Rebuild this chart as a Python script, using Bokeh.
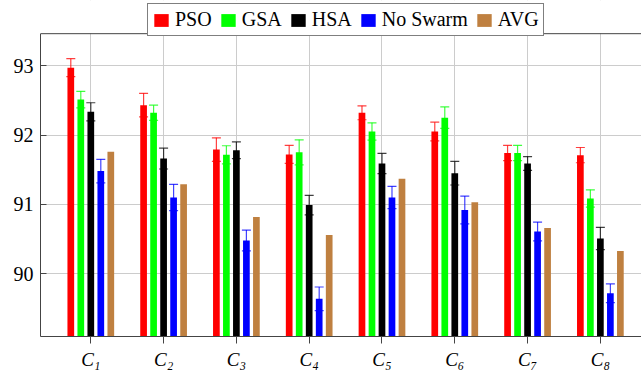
from bokeh.plotting import figure
from bokeh.models import (ColumnDataSource, Whisker, TeeHead, Legend, LegendItem,
                          FixedTicker, Range1d, Span, BoxAnnotation)
from bokeh.embed import file_html
from bokeh.resources import INLINE

# --- data -------------------------------------------------------------------
categories = ["C\u2081", "C\u2082", "C\u2083", "C\u2084",
              "C\u2085", "C\u2086", "C\u2087", "C\u2088"]
series_names = ["PSO", "GSA", "HSA", "No Swarm", "AVG"]
series_colors = ["#ff0000", "#00ff00", "#000000", "#0000ff", "#bf8040"]

pso = [92.97, 92.43, 91.79, 91.72, 92.32, 92.05, 91.74, 91.71]
pso_err = [0.13, 0.17, 0.17, 0.13, 0.10, 0.135, 0.11, 0.11]
gsa = [92.51, 92.32, 91.715, 91.75, 92.05, 92.25, 91.74, 91.085]
gsa_err = [0.12, 0.11, 0.13, 0.18, 0.125, 0.155, 0.11, 0.125]
hsa = [92.335, 91.66, 91.78, 90.99, 91.59, 91.45, 91.59, 90.51]
hsa_err = [0.13, 0.15, 0.12, 0.14, 0.145, 0.17, 0.10, 0.16]
no_swarm = [91.48, 91.10, 90.48, 89.64, 91.10, 90.92, 90.61, 89.72]
no_swarm_err = [0.17, 0.19, 0.15, 0.17, 0.16, 0.20, 0.135, 0.135]
avg = [91.76, 91.29, 90.82, 90.56, 91.37, 91.03, 90.66, 90.33]

y_ticks = [90, 91, 92, 93]

series_values = [pso, gsa, hsa, no_swarm, avg]
series_errors = [pso_err, gsa_err, hsa_err, no_swarm_err, None]

# --- layout -------------------------------------------------------------------
positions = list(range(1, len(categories) + 1))
bar_width = 0.092
bar_step = 0.1374
baseline = 85.0
serif = "Liberation Serif"

# axis box spans y_lo..y_hi; the canvas keeps a strip above it for the legend
y_lo, y_hi = 89.097, 93.46
y_canvas_top = 93.938
tick_len = 0.1

p = figure(width=641, height=373, output_backend="svg", toolbar_location=None,
           x_range=Range1d(0.309, 8.565), y_range=Range1d(y_lo, y_canvas_top),
           min_border_left=40, min_border_right=0,
           min_border_top=0, min_border_bottom=37)
p.outline_line_color = None
p.background_fill_color = "white"
p.border_fill_color = "white"

axis_color = "#444444"

# bottom axis: category labels, ticks pointing outward
p.xaxis.ticker = FixedTicker(ticks=positions)
p.xaxis.major_label_overrides = {pos: lab for pos, lab in zip(positions, categories)}
p.xaxis.major_label_text_font = serif
p.xaxis.major_label_text_font_style = "italic"
p.xaxis.major_label_text_font_size = "19px"
p.xaxis.major_label_text_color = "black"
p.xaxis.major_label_standoff = 5
p.xaxis.major_tick_in = 0
p.xaxis.major_tick_out = 7
p.xaxis.minor_tick_line_color = None
p.xaxis.axis_line_color = axis_color
p.xaxis.major_tick_line_color = axis_color

# left axis: ticks pointing inward, line stops at the top of the axis box
p.yaxis.ticker = FixedTicker(ticks=y_ticks)
p.yaxis.bounds = (y_lo, y_hi)
p.yaxis.major_label_text_font = serif
p.yaxis.major_label_text_font_size = "20px"
p.yaxis.major_label_text_color = "black"
p.yaxis.major_label_standoff = 7
p.yaxis.major_tick_in = 6
p.yaxis.major_tick_out = 0
p.yaxis.minor_tick_line_color = None
p.yaxis.axis_line_color = axis_color
p.yaxis.major_tick_line_color = axis_color

p.xgrid.ticker = FixedTicker(ticks=positions)
p.ygrid.ticker = FixedTicker(ticks=y_ticks)
p.xgrid.grid_line_color = "#cccccc"
p.ygrid.grid_line_color = "#cccccc"

# blank strip above the axis box, then its top edge with outward ticks
p.add_layout(BoxAnnotation(bottom=y_hi, fill_color="white", fill_alpha=1,
                           line_color=None))
p.add_layout(Span(location=y_hi, dimension="width", line_color=axis_color,
                  line_width=1))
p.segment(x0=positions, y0=[y_hi] * len(positions), x1=positions,
          y1=[y_hi + tick_len] * len(positions), line_color=axis_color,
          line_width=1, level="annotation")

# --- bars and error bars ----------------------------------------------------
legend_items = []
n = len(series_names)
for k, (name, color, vals, errs) in enumerate(zip(series_names, series_colors,
                                                  series_values, series_errors)):
    offset = (k - (n - 1) / 2) * bar_step
    xs = [pos + offset for pos in positions]
    data = dict(x=xs, top=vals)
    if errs is not None:
        data["upper"] = [v + e for v, e in zip(vals, errs)]
        data["lower"] = [v - e for v, e in zip(vals, errs)]
    src = ColumnDataSource(data)
    bars = p.vbar(x="x", top="top", bottom=baseline, width=bar_width,
                  source=src, fill_color=color, line_color=None)
    if errs is not None:
        w = Whisker(source=src, base="x", upper="upper", lower="lower",
                    dimension="height", line_color=color, line_alpha=0.75,
                    line_width=1.2,
                    upper_head=TeeHead(size=9, line_color=color, line_alpha=0.75, line_width=1.2),
                    lower_head=TeeHead(size=9, line_color=color, line_alpha=0.75, line_width=1.2))
        p.add_layout(w)
    legend_items.append(LegendItem(label=name, renderers=[bars]))

legend = Legend(items=legend_items, orientation="horizontal",
                location=(107, 300), glyph_width=18, glyph_height=16,
                label_standoff=5, spacing=7, padding=4, margin=0,
                border_line_color="black", border_line_width=1,
                background_fill_color="white", background_fill_alpha=1,
                label_text_font=serif, label_text_font_size="20px",
                label_text_color="black")
p.add_layout(legend)

open("out.html", "w").write(file_html(p, INLINE))
